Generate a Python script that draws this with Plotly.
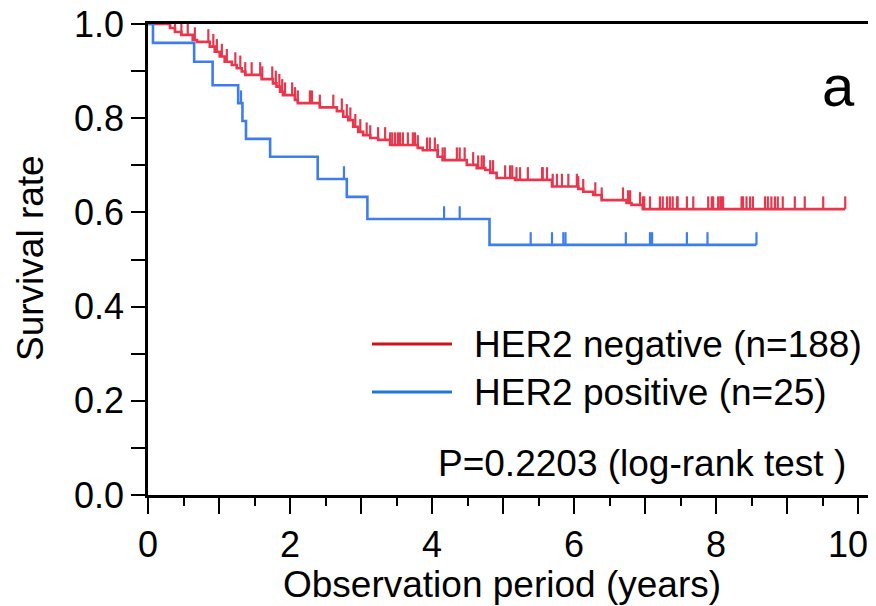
import plotly.graph_objects as go
import numpy as np

# ---- data ----
neg_times = [0, 0.31, 0.38, 0.47, 0.63, 0.69, 0.87, 0.94, 1.01, 1.08, 1.18, 1.25, 1.32, 1.37,
             1.60, 1.76, 1.81, 1.86, 1.90, 2.07, 2.11, 2.42, 2.66, 2.75, 2.82, 2.89, 2.96, 3.03,
             3.13, 3.24, 3.41, 3.80, 3.87, 4.08, 4.15, 4.49, 4.63, 4.75, 4.82, 4.91, 5.17, 5.69,
             6.06, 6.13, 6.27, 6.39, 6.74, 6.81, 6.97, 9.82]
neg_surv = [1.0, 0.9915, 0.983, 0.977, 0.966, 0.962, 0.952, 0.941, 0.931, 0.920, 0.913, 0.906,
            0.899, 0.892, 0.883, 0.874, 0.867, 0.856, 0.849, 0.839, 0.832, 0.823, 0.815, 0.803,
            0.796, 0.782, 0.771, 0.764, 0.758, 0.754, 0.743, 0.737, 0.732, 0.718, 0.711, 0.701,
            0.694, 0.690, 0.684, 0.673, 0.669, 0.655, 0.650, 0.644, 0.637, 0.626, 0.620, 0.616,
            0.607, 0.607]
neg_censor = [0.31, 0.38, 0.47, 0.56, 0.66, 0.85, 0.92, 0.97, 1.04, 1.11, 1.23, 1.30, 1.37, 1.46,
              1.58, 1.61, 1.75, 1.80, 1.85, 1.89, 1.93, 2.03, 2.07, 2.11, 2.28, 2.31, 2.42, 2.61,
              2.73, 2.80, 2.85, 2.92, 2.99, 3.08, 3.13, 3.24, 3.34, 3.41, 3.44, 3.48, 3.52, 3.55,
              3.59, 3.66, 3.73, 3.76, 3.80, 3.93, 3.97, 4.04, 4.08, 4.15, 4.18, 4.35, 4.39, 4.46,
              4.58, 4.65, 4.70, 4.73, 4.82, 4.86, 5.03, 5.10, 5.13, 5.19, 5.24, 5.35, 5.55, 5.56,
              5.62, 5.70, 5.76, 5.83, 5.92, 6.04, 6.06, 6.13, 6.30, 6.39, 6.69, 6.76, 6.79, 6.93,
              6.97, 6.99, 7.07, 7.21, 7.25, 7.31, 7.35, 7.39, 7.45, 7.46, 7.59, 7.68, 7.89, 7.94,
              7.96, 8.03, 8.06, 8.08, 8.10, 8.36, 8.38, 8.43, 8.48, 8.52, 8.69, 8.73, 8.78, 8.83,
              8.87, 8.94, 9.11, 9.25, 9.51, 9.82]

pos_times = [0, 0.07, 0.65, 0.91, 1.27, 1.33, 1.38, 1.72, 2.39, 2.80, 3.09, 4.81, 8.57]
pos_surv = [1.0, 0.96, 0.92, 0.87, 0.832, 0.794, 0.756, 0.718, 0.671, 0.633, 0.586, 0.531, 0.531]
pos_censor = [1.31, 2.76, 4.17, 4.39, 5.39, 5.69, 5.85, 5.88, 6.73, 7.07, 7.10, 7.59, 7.88, 8.57]

x_tick_vals = [0, 1, 2, 3, 4, 5, 6, 7, 8, 9, 10]
x_tick_text = ["0", "", "2", "", "4", "", "6", "", "8", "", "10\u00a0\u00a0"]
y_tick_vals = [0.0, 0.2, 0.4, 0.6, 0.8, 1.0]
y_tick_text = ["0.0", "0.2", "0.4", "0.6", "0.8", "1.0"]

labels = ["HER2 negative (n=188)", "HER2 positive (n=25)"]
p_text = "P=0.2203 (log-rank test )"
panel_label = "a"
x_title = "Observation period (years)"
y_title = "Survival rate"

RED = "#E8364C"
BLUE = "#3D7DEE"
RED_LEG = "#CC1418"
BLUE_LEG = "#1F78D0"
FONT = "Arial, Liberation Sans, sans-serif"
TICK_H = 0.027


def surv_at(times, surv, t):
    idx = np.searchsorted(np.array(times), t, side="right") - 1
    return surv[max(idx, 0)]


def censor_segments(times, surv, cens):
    xs, ys = [], []
    for c in cens:
        s = surv_at(times, surv, c)
        xs += [c, c, None]
        ys += [s, s + TICK_H, None]
    return xs, ys


fig = go.Figure()
for times, surv, cens, col, name in [
    (neg_times, neg_surv, neg_censor, RED, labels[0]),
    (pos_times, pos_surv, pos_censor, BLUE, labels[1]),
]:
    fig.add_trace(go.Scatter(x=times, y=surv, mode="lines", line=dict(color=col, width=2.6, shape="hv"),
                             name=name, showlegend=False))
    cx, cy = censor_segments(times, surv, cens)
    fig.add_trace(go.Scatter(x=cx, y=cy, mode="lines", line=dict(color=col, width=2.2),
                             showlegend=False, hoverinfo="skip"))

# page has an 8px body margin, so the figure is drawn offset by 8px
OFF = 8
W, H = 876 - OFF, 606 - OFF
PLOT_L, PLOT_R, PLOT_T, PLOT_B = 148, 876, 24, 495  # plot area in screen pixels
L = PLOT_L - OFF
T = PLOT_T - OFF
R = 0
B = H - (PLOT_B - OFF)
pw = PLOT_R - PLOT_L
ph = PLOT_B - PLOT_T


def px(x):
    return (x - PLOT_L) / pw


def py(y):
    return (PLOT_B - y) / ph


# legend drawn as shapes + text
for yy, col, lab in [(344, RED_LEG, labels[0]), (392, BLUE_LEG, labels[1])]:
    fig.add_shape(type="line", xref="paper", yref="paper", x0=px(372), x1=px(452), y0=py(yy), y1=py(yy),
                  line=dict(color=col, width=3))
    fig.add_annotation(xref="paper", yref="paper", x=px(472), y=py(yy), text=lab, showarrow=False,
                       xanchor="left", yanchor="middle", font=dict(size=37, color="black", family=FONT))

fig.add_annotation(xref="paper", yref="paper", x=px(436), y=py(463), text=p_text, showarrow=False,
                   xanchor="left", yanchor="middle", font=dict(size=37, color="black", family=FONT))
fig.add_annotation(xref="paper", yref="paper", x=px(838), y=py(86), text=panel_label, showarrow=False,
                   xanchor="center", yanchor="middle", font=dict(size=58, color="black", family=FONT))
# axis titles
fig.add_annotation(xref="paper", yref="paper", x=px(502), y=py(584), text=x_title, showarrow=False,
                   xanchor="center", yanchor="middle", font=dict(size=37, color="black", family=FONT))
fig.add_annotation(xref="paper", yref="paper", x=px(30), y=py(258), text=y_title, showarrow=False,
                   textangle=-90, xanchor="center", yanchor="middle",
                   font=dict(size=37, color="black", family=FONT))

fig.update_layout(
    width=W, height=H,
    margin=dict(l=L, r=R, t=T, b=B, pad=0),
    plot_bgcolor="white", paper_bgcolor="white",
    font=dict(family=FONT, color="black"),
    xaxis=dict(range=[0, pw / 71.0], tickmode="array", tickvals=x_tick_vals, ticktext=x_tick_text,
               ticks="outside", ticklen=16, tickwidth=2, tickcolor="black", automargin=False,
               ticklabeloverflow="allow",
               minor=dict(dtick=0.5, ticklen=8, tickwidth=2, tickcolor="black", ticks="outside"),
               showline=True, linewidth=2.5, linecolor="black", mirror=True, showgrid=False, zeroline=False,
               tickfont=dict(size=36)),
    yaxis=dict(range=[0, 1], tickmode="array", tickvals=y_tick_vals, ticktext=y_tick_text,
               ticks="outside", ticklen=14, tickwidth=2, tickcolor="black", automargin=False,
               ticklabeloverflow="allow",
               minor=dict(dtick=0.1, ticklen=14, tickwidth=2, tickcolor="black", ticks="outside"),
               showline=True, linewidth=2.5, linecolor="black", showgrid=False, zeroline=False,
               tickfont=dict(size=36)),
)

fig.write_html("out.html")
